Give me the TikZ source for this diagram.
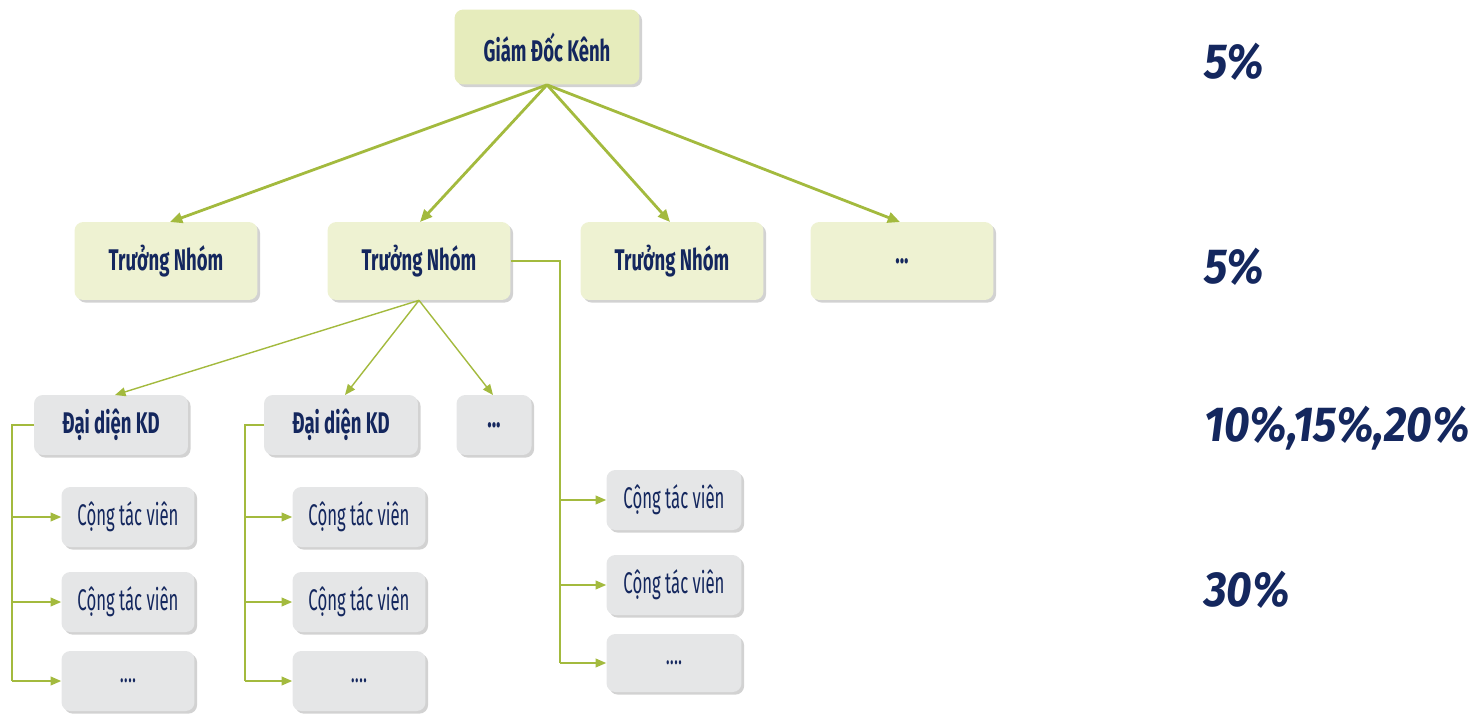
\documentclass[tikz,border=0pt]{standalone}
\usepackage{fontspec}
\setmainfont[FakeStretch=0.62]{Fira Sans}
\newfontfamily\ctvfont[FakeStretch=0.56]{Fira Sans}
\newfontfamily\pctfont[FakeStretch=0.9]{Fira Sans}
\usetikzlibrary{arrows.meta,shadows}

\definecolor{linegreen}{HTML}{A3BA3E}
\definecolor{boxgreen}{HTML}{E6ECBC}
\definecolor{boxlight}{HTML}{EEF2D2}
\definecolor{boxgrey}{HTML}{E5E6E7}
\definecolor{navy}{HTML}{14275E}

\tikzset{
  box/.style={rounded corners=5pt, text=navy, align=center, inner sep=0pt,
    drop shadow={shadow xshift=1.5pt, shadow yshift=-1.5pt, fill=black!35}},
  topbox/.style={box, fill=boxgreen, minimum width=3.7cm, minimum height=1.5cm, font=\bfseries\fontsize{17}{19}\selectfont},
  leadbox/.style={box, fill=boxlight, minimum width=3.66cm, minimum height=1.56cm, font=\bfseries\fontsize{17}{19}\selectfont},
  repbox/.style={box, fill=boxgrey, minimum width=3.08cm, minimum height=1.2cm, font=\bfseries\fontsize{17}{19}\selectfont},
  ctvbox/.style={box, fill=boxgrey, minimum width=2.66cm, minimum height=1.2cm, font=\ctvfont\fontsize{17}{19}\selectfont},
  conn/.style={draw=linegreen, line width=1.6pt, -{Triangle[length=7pt,width=6pt]}},
  thinconn/.style={draw=linegreen, line width=0.8pt, -{Triangle[length=6pt,width=5pt]}},
  pct/.style={anchor=west, text=navy, font=\pctfont\bfseries\itshape\fontsize{28}{30}\selectfont}
}

\begin{document}
\begin{tikzpicture}[x=0.02cm, y=-0.02cm]
  \useasboundingbox (0,0) rectangle (1476,713);

  % Top level
  \node[topbox] (gd) at (547,47) {Giám Đốc Kênh};

  % Team leaders
  \node[leadbox] (tn1) at (166,261) {Trưởng Nhóm};
  \node[leadbox] (tn2) at (419,261) {Trưởng Nhóm};
  \node[leadbox] (tn3) at (672,261) {Trưởng Nhóm};
  \node[leadbox] (tn4) at (902,261) {...};

  % Sales reps
  \node[repbox] (dd1) at (111,425) {Đại diện KD};
  \node[repbox] (dd2) at (341,425) {Đại diện KD};
  \node[repbox, minimum width=1.5cm] (dd3) at (494,425) {...};

  % Collaborators
  \foreach \col/\x in {1/128, 2/359} {
    \node[ctvbox] (ctv\col a) at (\x,517) {Cộng tác viên};
    \node[ctvbox] (ctv\col b) at (\x,602) {Cộng tác viên};
    \node[ctvbox] (ctv\col c) at (\x,681) {....};
  }
  \node[ctvbox, minimum width=2.7cm] (ctv3a) at (674,500) {Cộng tác viên};
  \node[ctvbox, minimum width=2.7cm] (ctv3b) at (674,585) {Cộng tác viên};
  \node[ctvbox, minimum width=2.7cm, minimum height=1.16cm] (ctv3c) at (674,663) {....};

  % Arrows from the top
  \foreach \t/\x in {tn1/170, tn2/420, tn3/670, tn4/900} {
    \draw[conn] (gd.south) -- (\x,222);
  }

  % Arrows to the sales reps
  \draw[thinconn] (tn2.south) -- (115,395);
  \draw[thinconn] (tn2.south) -- (345,395);
  \draw[thinconn] (tn2.south) -- (493,395);

  % Elbow lines to the collaborators
  \foreach \src/\col/\bx in {dd1/1/12, dd2/2/245} {
    \draw[draw=linegreen, line width=0.8pt] (\src.west) -- (\bx,425) -- (\bx,681);
    \foreach \r in {a,b,c}
      \draw[thinconn] (\bx,0 |- ctv\col\r.west) -- (ctv\col\r.west);
  }
  \draw[draw=linegreen, line width=0.8pt] (tn2.east) -- (560,261) -- (560,663);
  \foreach \r in {a,b,c}
    \draw[thinconn] (560,0 |- ctv3\r.west) -- (ctv3\r.west);

  % Percentages
  \node[pct] (p1) at (1198,62) {5\%};
  \node[pct] (p2) at (1198,267) {5\%};
  \node[pct] (p3) at (1198,428) {10\%,15\%,20\%};
  \node[pct] (p4) at (1198,590) {30\%};
\end{tikzpicture}
\end{document}
